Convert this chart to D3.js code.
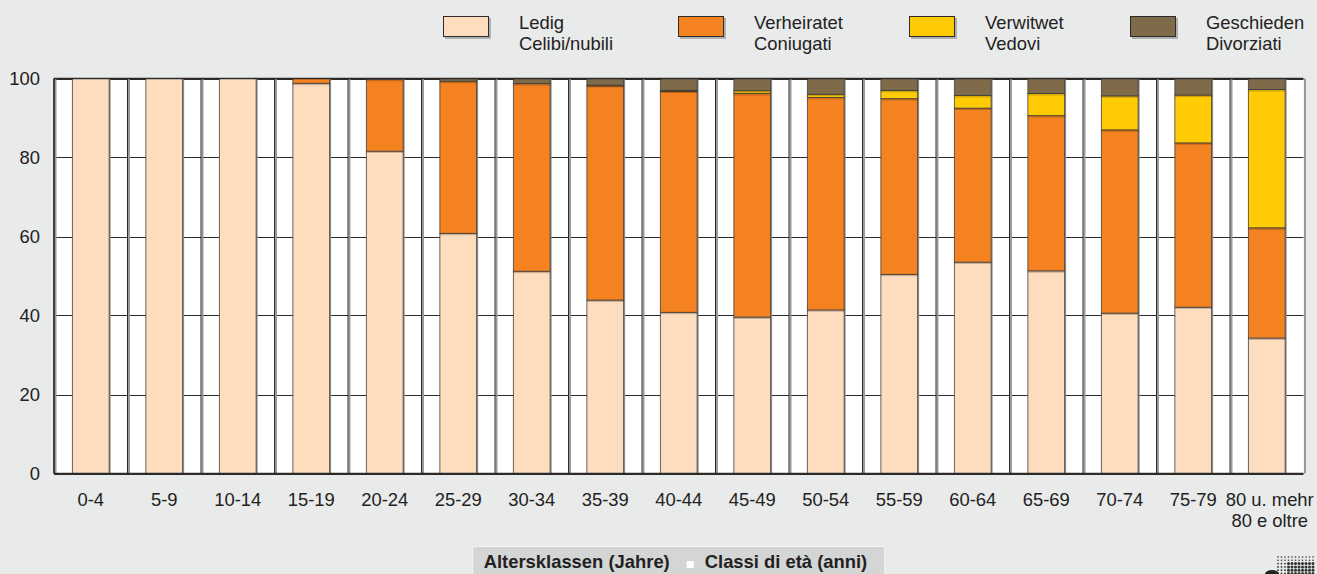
<!DOCTYPE html>
<html><head><meta charset="utf-8">
<script src="https://cdn.jsdelivr.net/npm/d3@7"></script>
<style>
html,body{margin:0;padding:0;background:#e9eaea;}
svg{display:block;font-family:"Liberation Sans",Arial,sans-serif;}
</style></head>
<body><svg id="chart" width="1317" height="574"></svg>
<script>
const categories = ["0-4","5-9","10-14","15-19","20-24","25-29","30-34","35-39","40-44","45-49","50-54","55-59","60-64","65-69","70-74","75-79","80 u. mehr"];
const categoryLine2 = ["","","","","","","","","","","","","","","","","80 e oltre"];
const ledig     = [100,100,100,98.8,81.6,60.8,51.2,43.9,40.8,39.6,41.4,50.4,53.5,51.3,40.6,42.1,34.3];
const verheiratet = [0,0,0,1.2,18.2,38.5,47.5,54.3,56.0,56.6,53.8,44.5,39.0,39.3,46.4,41.6,27.9];
const verwitwet = [0,0,0,0,0,0,0,0.1,0.2,0.7,0.8,2.1,3.2,5.6,8.6,12.1,35.0];
const geschieden = [0,0,0,0,0.2,0.7,1.3,1.7,3.0,3.1,4.0,3.0,4.3,3.8,4.4,4.2,2.8];
const seriesKeys = ["ledig","verheiratet","verwitwet","geschieden"];
const seriesLabels = [["Ledig","Celibi/nubili"],["Verheiratet","Coniugati"],["Verwitwet","Vedovi"],["Geschieden","Divorziati"]];
const seriesColors = ["#fedcbe","#f58220","#ffcb05","#7f6a49"];
const yTicks = [0,20,40,60,80,100];
const axisTitle = ["Altersklassen (Jahre)","Classi di età (anni)"];

const FS = 18.4;
const svg = d3.select("#chart");
const M = {left:54, right:1303.5, top:78.5, bottom:473.5};
const x = d3.scaleBand().domain(categories).range([M.left, M.right]).paddingInner(0).paddingOuter(0);
const y = d3.scaleLinear().domain([0,100]).range([M.bottom, M.top]);
const bw = x.bandwidth()*0.5;

const table = categories.map((c,i)=>({cat:c, ledig:ledig[i], verheiratet:verheiratet[i], verwitwet:verwitwet[i], geschieden:geschieden[i]}));
const stack = d3.stack().keys(seriesKeys)(table);

// plot background
svg.append("rect").attr("x",M.left).attr("y",M.top).attr("width",M.right-M.left).attr("height",M.bottom-M.top).attr("fill","#fff");

// horizontal grid
svg.append("g").selectAll("line").data(yTicks).join("line")
  .attr("x1",M.left).attr("x2",M.right).attr("y1",d=>Math.round(y(d))+0.5).attr("y2",d=>Math.round(y(d))+0.5)
  .attr("stroke","#2b2b2b").attr("stroke-width",1);

// vertical grid lines at band boundaries
const bounds = categories.map(c=>x(c)).concat([M.right]);
const vg = svg.append("g");
vg.selectAll("line.sh").data(bounds).join("line").attr("class","sh")
  .attr("x1",d=>d+1.5).attr("x2",d=>d+1.5).attr("y1",M.top).attr("y2",M.bottom)
  .attr("stroke","#9a9a9a").attr("stroke-width",2);
vg.selectAll("line.dk").data(bounds.slice(0,-1)).join("line").attr("class","dk")
  .attr("x1",d=>d).attr("x2",d=>d).attr("y1",M.top).attr("y2",M.bottom)
  .attr("stroke","#2b2b2b").attr("stroke-width",1);

// bar shadows
svg.append("g").selectAll("rect").data(table).join("rect")
  .attr("x",d=>x(d.cat)+(x.bandwidth()-bw)/2+1.5).attr("width",bw)
  .attr("y",y(100)).attr("height",y(0)-y(100))
  .attr("fill","#8f8f8f");

// bars
const g = svg.append("g");
stack.forEach((s,si)=>{
  g.append("g").selectAll("rect").data(s.filter(d=>d[1]-d[0]>0)).join("rect")
    .attr("x",d=>x(d.data.cat)+(x.bandwidth()-bw)/2).attr("width",bw)
    .attr("y",d=>y(d[1])).attr("height",d=>y(d[0])-y(d[1]))
    .attr("fill",seriesColors[si]).attr("stroke","#3a3a3a").attr("stroke-width",0.9).attr("stroke-opacity",0.85);
});
// segment boundary shadows
stack.forEach((s,si)=>{
  if(si===0) return;
  g.append("g").selectAll("line").data(s.filter(d=>d[1]-d[0]>0 && d[0]>0)).join("line")
    .attr("x1",d=>x(d.data.cat)+(x.bandwidth()-bw)/2).attr("x2",d=>x(d.data.cat)+(x.bandwidth()+bw)/2)
    .attr("y1",d=>y(d[0])+1.3).attr("y2",d=>y(d[0])+1.3)
    .attr("stroke","#000").attr("stroke-opacity",0.2).attr("stroke-width",1.2);
});

// frame
svg.append("line").attr("x1",M.left).attr("x2",M.right).attr("y1",M.top).attr("y2",M.top).attr("stroke","#2b2b2b").attr("stroke-width",1.5);
svg.append("line").attr("x1",M.left).attr("x2",M.right).attr("y1",M.bottom).attr("y2",M.bottom).attr("stroke","#2b2b2b").attr("stroke-width",1.5);
svg.append("line").attr("x1",M.left).attr("x2",M.left).attr("y1",M.top).attr("y2",M.bottom).attr("stroke","#2b2b2b").attr("stroke-width",1.5);

// y axis labels
const yAxis = d3.axisLeft(y).tickValues(yTicks).tickSize(0).tickPadding(14);
const ya = svg.append("g").attr("transform",`translate(${M.left},0)`).call(yAxis);
ya.select(".domain").remove();
ya.selectAll("text").attr("font-size",FS).attr("fill","#222").attr("font-family","Liberation Sans, Arial, sans-serif");

// x axis labels
const xAxis = d3.axisBottom(x).tickSize(0).tickPadding(0).tickFormat(()=>"");
const xa = svg.append("g").attr("transform",`translate(0,${M.bottom})`).call(xAxis);
xa.select(".domain").remove();
xa.selectAll(".tick").each(function(d,i){
  const t = d3.select(this).append("text").attr("fill","#222").attr("font-size",FS).attr("text-anchor","middle")
    .attr("font-family","Liberation Sans, Arial, sans-serif");
  t.append("tspan").attr("x",i===categories.length-1?3:0).attr("y",32).text(d);
  if(categoryLine2[i]) t.append("tspan").attr("x",3).attr("y",53).text(categoryLine2[i]);
});

// legend
const legX = [443,678,909,1130];
const leg = svg.append("g");
seriesKeys.forEach((k,i)=>{
  const lg = leg.append("g").attr("transform",`translate(${legX[i]},16)`);
  lg.append("rect").attr("x",2).attr("y",2).attr("width",46).attr("height",21).attr("fill","#b0b0b0");
  lg.append("rect").attr("x",0.5).attr("y",0.5).attr("width",45).attr("height",20).attr("fill",seriesColors[i]).attr("stroke","#2b2b2b").attr("stroke-width",1);
  const t = lg.append("text").attr("fill","#222").attr("font-size",FS);
  t.append("tspan").attr("x",76).attr("y",13).text(seriesLabels[i][0]);
  t.append("tspan").attr("x",76).attr("y",33.5).text(seriesLabels[i][1]);
});

// axis title box
const cx = (M.left+M.right)/2;
svg.append("rect").attr("x",cx-206).attr("y",546.5).attr("width",412).attr("height",40).attr("fill","#d4d5d5").attr("stroke","#f4f4f4").attr("stroke-width",1);
const at = svg.append("g").attr("font-weight","bold").attr("font-size",FS).attr("fill","#222");
at.append("text").attr("x",cx-9).attr("y",568).attr("text-anchor","end").text(axisTitle[0]);
at.append("rect").attr("x",cx+8).attr("y",561).attr("width",7).attr("height",7).attr("fill","#fff");
at.append("text").attr("x",cx+26).attr("y",568).attr("text-anchor","start").text(axisTitle[1]);

// logo fragment (halftone)
const lgG = svg.append("g");
for(let r=0;r<6;r++){
  for(let c=0;c<11;c++){
    const px = 1278+c*3.5, py = 557+r*3.3;
    const rad = r<2 ? 0.8 : (c>2 ? 1.5 : 0.9);
    lgG.append("circle").attr("cx",px).attr("cy",py).attr("r",rad).attr("fill","#333");
  }
}
lgG.append("ellipse").attr("cx",1272).attr("cy",574).attr("rx",7).attr("ry",4).attr("fill","#222");
</script></body></html>
